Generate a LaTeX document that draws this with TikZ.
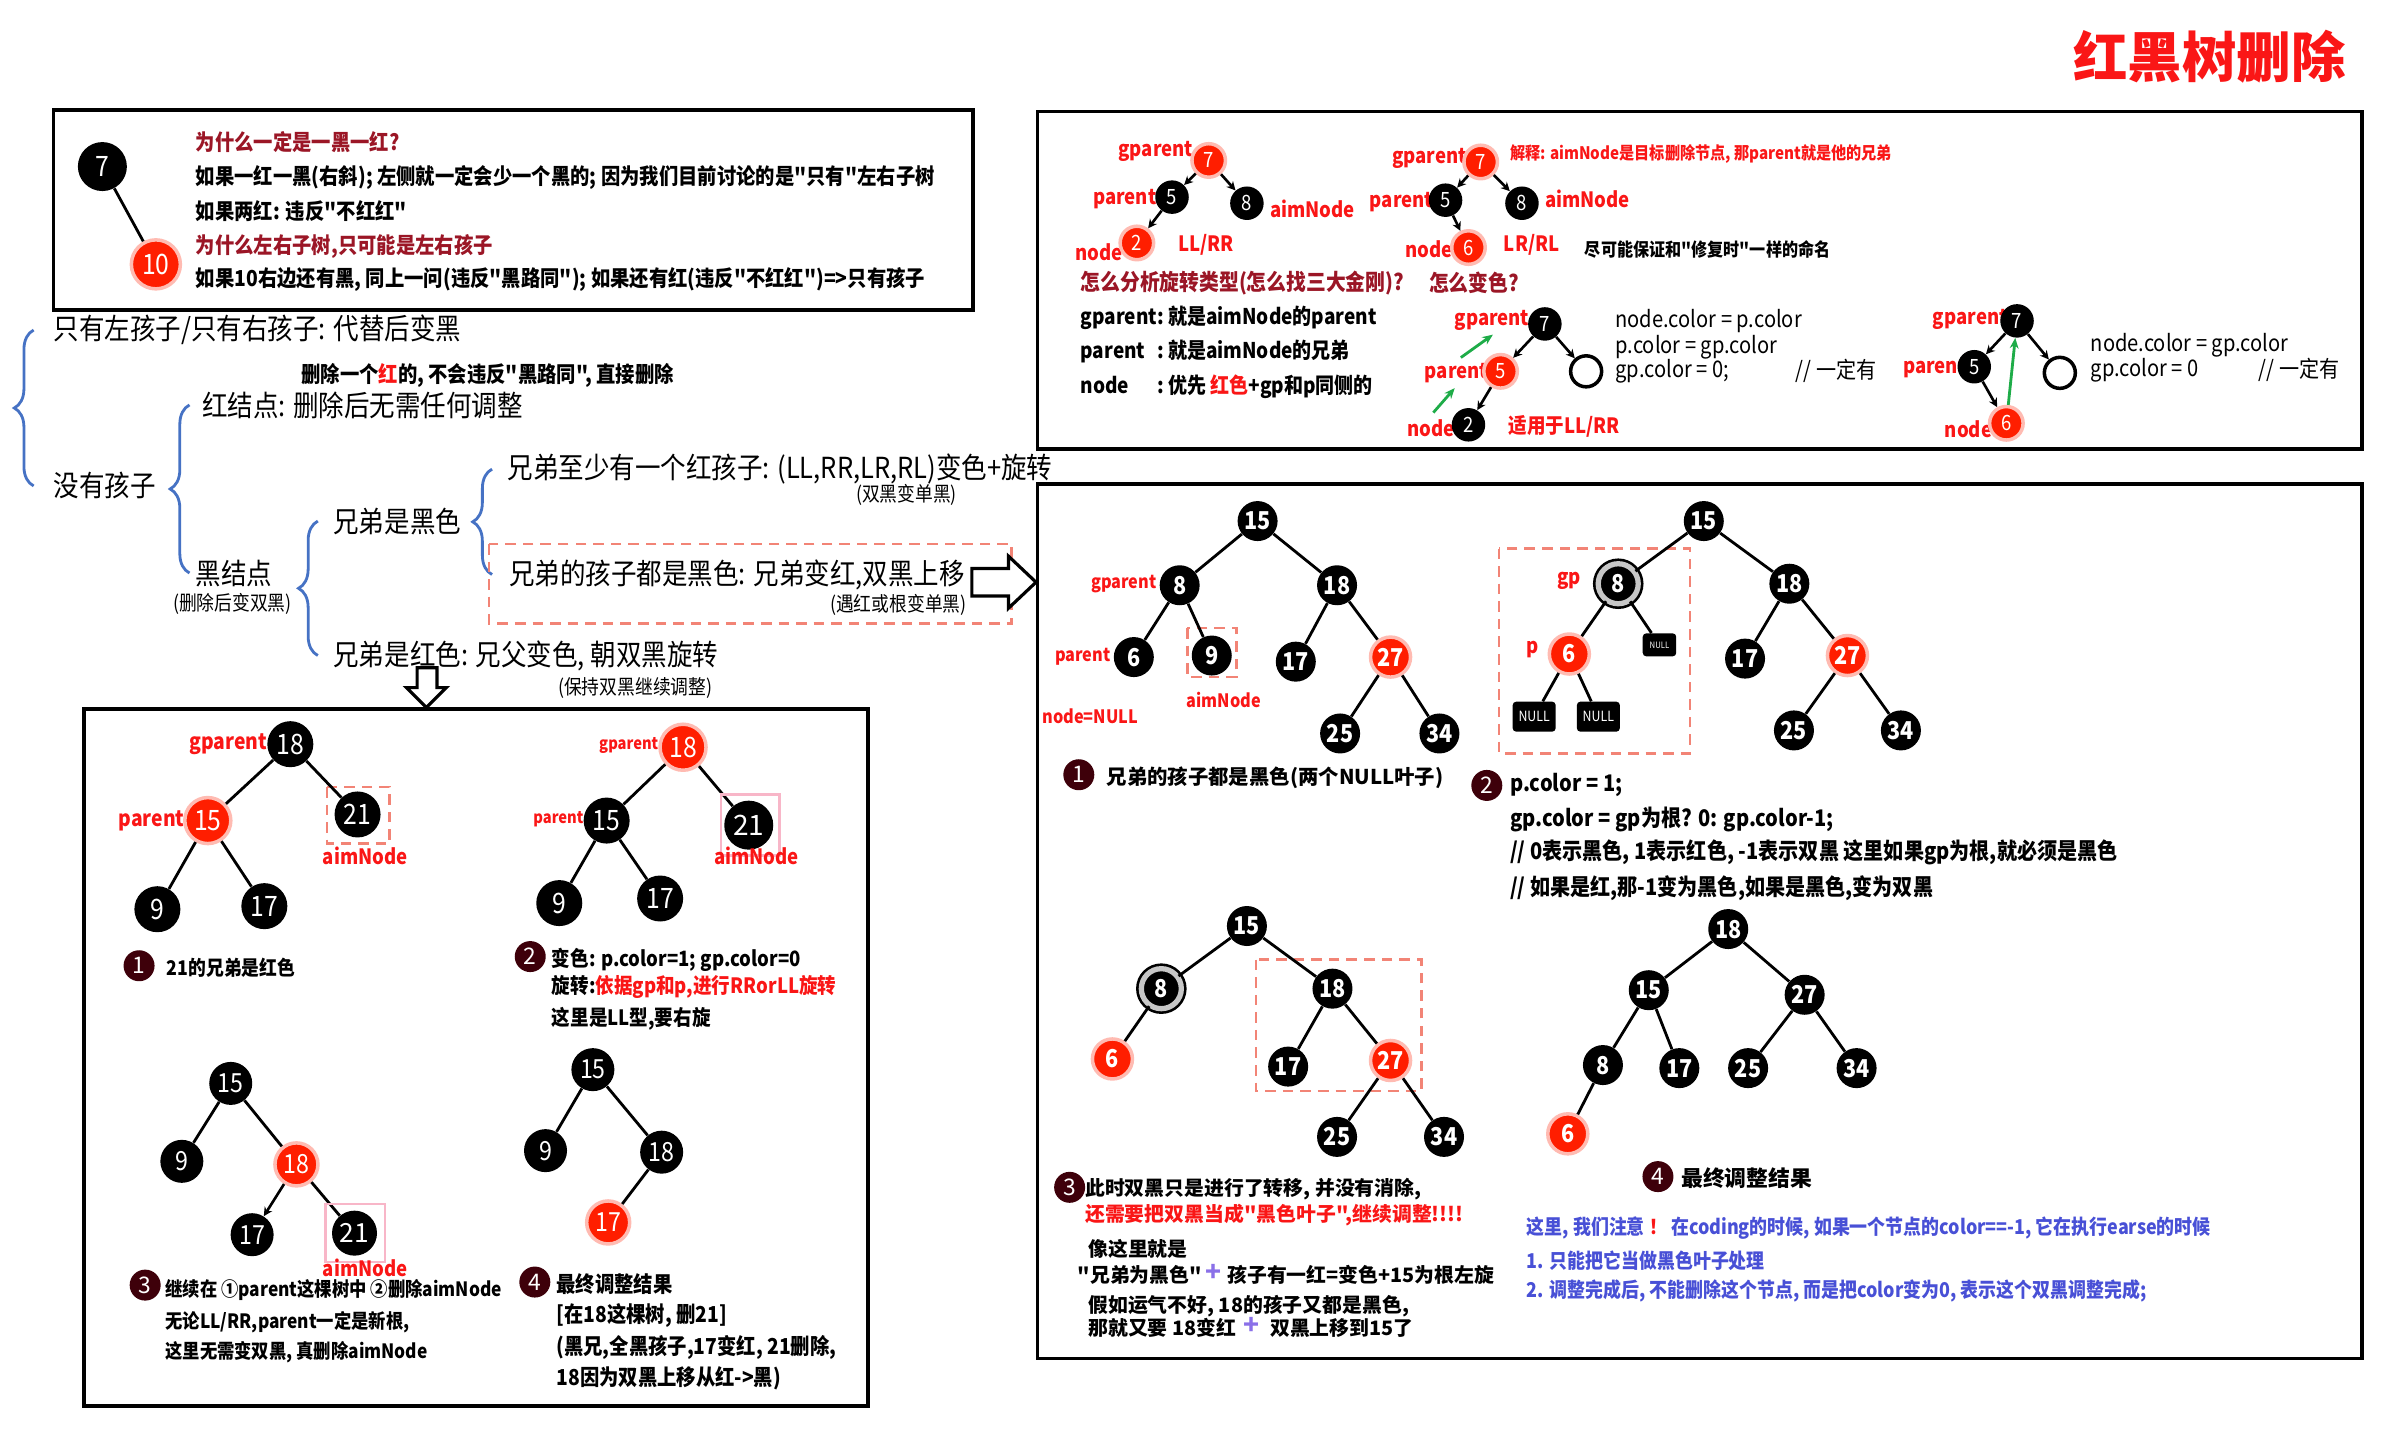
\documentclass[tikz,border=0pt]{standalone}
\usepackage{fontspec}
\setmainfont{Noto Sans CJK SC}[FakeStretch=0.88, Ligatures=TeXOff]
\newfontfamily\widefont{Noto Sans CJK SC}[Ligatures=TeXOff]
\usetikzlibrary{arrows.meta,calc,decorations.pathreplacing}
\definecolor{nred}{RGB}{250,22,22}
\definecolor{nodered}{RGB}{255,30,0}
\definecolor{dred}{RGB}{155,22,38}
\definecolor{stepred}{RGB}{62,0,10}
\definecolor{bblue}{RGB}{70,114,196}
\definecolor{salmon}{RGB}{242,132,118}
\definecolor{pinkbox}{RGB}{248,182,200}
\definecolor{gr}{RGB}{30,172,72}
\definecolor{tblue}{RGB}{72,80,214}
\definecolor{purp}{RGB}{138,112,232}
\newcommand\fsz[1]{\fontsize{#1}{#1}\selectfont}

\begin{document}
\begin{tikzpicture}[x=0.03056cm, y=-0.03056cm,
  bk/.style={circle, fill=black, text=white, inner sep=0pt, minimum size=0.8cm, font=\bfseries\fsz{14}},
  rd/.style={bk, fill=nodered, draw=nodered!30, line width=2pt},
  dbl/.style={bk, draw=black, double=black!22, double distance=3pt, line width=1.5pt},
  hol/.style={circle, draw=black, fill=white, line width=2pt, minimum size=0.62cm, inner sep=0pt},
  nul/.style={rectangle, rounded corners=2pt, fill=black, text=white, inner sep=0pt, minimum width=0.86cm, minimum height=0.6cm, font=\fsz{8}},
  stp/.style={circle, fill=stepred, text=white, inner sep=0pt, minimum size=0.62cm, font=\widefont\fsz{13}},
  ln/.style={line width=1.6pt},
  arr/.style={-{Stealth[length=5pt,width=5pt]}, line width=1.5pt},
  garr/.style={-{Stealth[length=6pt,width=5pt]}, draw=gr, line width=1.6pt},
  txt/.style={anchor=west, inner sep=0pt, font=\bfseries\fsz{12.5}},
  tb/.style={anchor=west, inner sep=0pt, font=\fsz{16.5}},
  snote/.style={anchor=west, inner sep=0pt, font=\fsz{11.5}},
  lbl/.style={inner sep=0pt, text=nred, font=\bfseries\fsz{12}},
  boxline/.style={line width=2.2pt},
  dbox/.style={draw=salmon, line width=1.6pt, dash pattern=on 6pt off 4pt},
  pbox/.style={draw=pinkbox, line width=1.4pt},
  brc/.style={draw=bblue, line width=1.6pt, decorate, decoration={brace, amplitude=11pt}}
]
\fill[white] (0,0) rectangle (1568,942.4);
\useasboundingbox (0,0) rectangle (1568,942.4);

\node[font=\widefont\bfseries\fsz{31}, text=nred] (title) at (1446,37) {红黑树删除};

% only one colour pair
\draw[boxline] (35,72) rectangle (637,203);
\node[bk, minimum size=0.98cm, font=\fsz{16}] (tl7) at (67,109) {7};
\node[rd, minimum size=0.98cm, font=\fsz{16}] (tl10) at (102,173) {10};
\draw[ln] (tl7) -- (tl10);
\node[txt, text=dred] (whyq) at (128,93) {为什么一定是一黑一红?};
\node[txt] (whya) at (128,116) {如果一红一黑(右斜); 左侧就一定会少一个黑的; 因为我们目前讨论的是"只有"左右子树};
\node[txt] (whyb) at (128,138) {如果两红: 违反"不红红"};
\node[txt, text=dred] (sideq) at (128,161) {为什么左右子树,只可能是左右孩子};
\node[txt] (sidea) at (128,183) {如果10右边还有黑, 同上一问(违反"黑路同"); 如果还有红(违反"不红红")=>只有孩子};

% case tree
\node[tb] (onlyone) at (35,216) {只有左孩子/只有右孩子: 代替后变黑};
\node[tb] (nokid) at (35,318) {没有孩子};
\node[txt] (redtip) at (197,246) {删除一个\textcolor{nred}{红}的, 不会违反"黑路同", 直接删除};
\node[tb] (rednode) at (132,265) {红结点: 删除后无需任何调整};
\node[tb] (blknode) at (128,375) {黑结点};
\node[snote] (blknote) at (113,395) {(删除后变双黑)};
\node[tb] (sibblk) at (218,341) {兄弟是黑色};
\node[tb] (sibred) at (218,429) {兄弟是红色: 兄父变色, 朝双黑旋转};
\node[snote] (sibrednote) at (365,450) {(保持双黑继续调整)};
\node[tb] (oneredkid) at (332,307) {兄弟至少有一个红孩子: (LL,RR,LR,RL)变色+旋转};
\node[snote] (oneredkidnote) at (560,324) {(双黑变单黑)};
\node[tb] (allblk) at (333,376) {兄弟的孩子都是黑色: 兄弟变红,双黑上移};
\node[snote] (allblknote) at (543,396) {(遇红或根变单黑)};
\coordinate (b1) at ($(onlyone.west)+(-13,0)$);
\draw[brc] (b1 |- nokid.west) -- (b1);
\coordinate (b2) at ($(rednode.west)+(-8,0)$);
\draw[brc] (b2 |- blknode.west) -- (b2);
\coordinate (b3) at ($(sibblk.west)+(-10,0)$);
\draw[brc] (b3 |- sibred.west) -- (b3);
\coordinate (b4) at ($(oneredkid.west)+(-10,0)$);
\draw[brc] (b4 |- allblk.west) -- (b4);
\draw[dbox] (320,356) rectangle (662,408);
\draw[line width=1.8pt, fill=white] (636,372) -- (660,372) -- (660,364) -- (678,381) -- (660,398) -- (660,390) -- (636,390) -- cycle;
\draw[line width=1.8pt, fill=white] (273,437) -- (286,437) -- (286,450) -- (292,450) -- (279,463) -- (266,450) -- (273,450) -- cycle;

% naming box
\draw[boxline] (679,73) rectangle (1546,294);
\node[lbl, anchor=east] (lgpa) at (781,99) {gparent};
\node[lbl, anchor=east] (lpa) at (757,130) {parent};
\node[lbl, anchor=west] (laima) at (831,137) {aimNode};
\node[lbl, anchor=east] (lnodea) at (735,165) {node};
\node[lbl, anchor=west] (lla) at (771,160) {LL/RR};
\node[rd, minimum size=0.67cm, font=\fsz{12}] (a7) at (791,105) {7};
\node[bk, minimum size=0.67cm, font=\fsz{12}] (a5) at (767,129) {5};
\node[bk, minimum size=0.67cm, font=\fsz{12}] (a8) at (816,133) {8};
\node[rd, minimum size=0.67cm, font=\fsz{12}] (a2) at (744,159) {2};
\draw[arr] (a7) -- (a5);
\draw[arr] (a7) -- (a8);
\draw[arr] (a5) -- (a2);
\node[lbl, anchor=east] (lgpb) at (960,104) {gparent};
\node[lbl, anchor=east] (lpb) at (938,132) {parent};
\node[lbl, anchor=west] (laimb) at (1011,130) {aimNode};
\node[lbl, anchor=east] (lnodeb) at (951,163) {node};
\node[lbl, anchor=west] (llrb) at (984,160) {LR/RL};
\node[rd, minimum size=0.67cm, font=\fsz{12}] (b7) at (969,106) {7};
\node[bk, minimum size=0.67cm, font=\fsz{12}] (b5) at (946,131) {5};
\node[bk, minimum size=0.67cm, font=\fsz{12}] (b8) at (996,133) {8};
\node[rd, minimum size=0.67cm, font=\fsz{12}] (b6) at (961,162) {6};
\draw[arr] (b7) -- (b5);
\draw[arr] (b7) -- (b8);
\draw[arr] (b5) -- (b6);
\node[txt, text=nred, font=\bfseries\fsz{9.8}] (explain) at (988,101) {解释: aimNode是目标删除节点, 那parent就是他的兄弟};
\node[txt, font=\bfseries\fsz{10.4}] (naming) at (1037,163) {尽可能保证和"修复时"一样的命名};
\node[txt, text=dred, font=\bfseries\fsz{12.8}] (howrot) at (707,185) {怎么分析旋转类型(怎么找三大金刚)?};
\node[txt, text=dred, font=\bfseries\fsz{12.8}] (howcol) at (935,185) {怎么变色?};
\node[txt, font=\bfseries\fsz{12.3}] (defgp) at (707,208) {\makebox[1.66cm][l]{gparent\hfill:} 就是aimNode的parent};
\node[txt, font=\bfseries\fsz{12.3}] (defp) at (707,230) {\makebox[1.66cm][l]{parent\hfill:} 就是aimNode的兄弟};
\node[txt, font=\bfseries\fsz{12.3}] (defn) at (707,253) {\makebox[1.66cm][l]{node\hfill:} 优先 \textcolor{nred}{红色}+gp和p同侧的};
\node[lbl, anchor=east] (lgpc) at (1001,210) {gparent};
\node[lbl, anchor=east] (lpc) at (974,244) {parent};
\node[lbl, anchor=east] (lnodec) at (952,280) {node};
\node[lbl, anchor=west] (llrc) at (987,279) {适用于LL/RR};
\node[bk, minimum size=0.67cm, font=\fsz{12}] (c7) at (1011,212) {7};
\node[rd, minimum size=0.67cm, font=\fsz{12}] (c5) at (982,243) {5};
\node[hol] (cnil) at (1038,243) {};
\node[bk, minimum size=0.67cm, font=\fsz{12}] (c2) at (961,278) {2};
\draw[arr] (c7) -- (c5);
\draw[arr] (c7) -- (cnil);
\draw[arr] (c5) -- (c2);
\coordinate (g1s) at (938,270);
\coordinate (g1e) at (952,254);
\coordinate (g2s) at (956,234);
\coordinate (g2e) at (977,219);
\draw[garr] (g1s) -- (g1e);
\draw[garr] (g2s) -- (g2e);
\node[txt, font=\fsz{13}] (ccol1) at (1057,210) {node.color = p.color};
\node[txt, font=\fsz{13}] (ccol2) at (1057,227) {p.color = gp.color};
\node[txt, font=\fsz{13}] (ccol3) at (1057,243) {gp.color = 0;};
\node[txt, font=\fsz{13}] (cmust) at (1175,243) {// 一定有};
\node[lbl, anchor=east] (lgpd) at (1314,209) {gparent};
\node[lbl, anchor=east] (lpd) at (1287,241) {parent};
\node[lbl, anchor=east] (lnoded) at (1304,281) {node};
\node[bk, minimum size=0.67cm, font=\fsz{12}] (d7) at (1320,210) {7};
\node[bk, minimum size=0.67cm, font=\fsz{12}] (d5) at (1292,240) {5};
\node[hol] (dnil) at (1348,244) {};
\node[rd, minimum size=0.67cm, font=\fsz{12}] (d6) at (1313,277) {6};
\draw[arr] (d7) -- (d5);
\draw[arr] (d7) -- (dnil);
\draw[arr] (d5) -- (d6);
\draw[garr] (d6) -- (d7);
\node[txt, font=\fsz{13}] (dcol1) at (1368,226) {node.color = gp.color};
\node[txt, font=\fsz{13}] (dcol2) at (1368,242) {gp.color = 0};
\node[txt, font=\fsz{13}] (dmust) at (1478,242) {// 一定有};

% black sibling, black nephews
\draw[boxline] (679,317) rectangle (1546,889);
\node[lbl, anchor=east, font=\bfseries\fsz{10.5}] (l1gp) at (757,382) {gparent};
\node[lbl, anchor=east, font=\bfseries\fsz{10.5}] (l1p) at (727,430) {parent};
\node[lbl, font=\bfseries\fsz{10.5}] (l1aim) at (801,458) {aimNode};
\node[lbl, anchor=west, font=\bfseries\fsz{10.5}] (l1node) at (682,469) {node=NULL};
\draw[dbox] (777,411) rectangle (809,443);
\node[bk] (s1n15) at (823,341) {15};
\node[bk] (s1n8) at (772,383) {8};
\node[bk] (s1n18) at (875,383) {18};
\node[bk] (s1n6) at (742,430) {6};
\node[bk] (s1n9) at (793,429) {9};
\node[bk] (s1n17) at (848,433) {17};
\node[rd] (s1n27) at (910,430) {27};
\node[bk] (s1n25) at (877,480) {25};
\node[bk] (s1n34) at (942,480) {34};
\draw[ln] (s1n15) -- (s1n8);
\draw[ln] (s1n15) -- (s1n18);
\draw[ln] (s1n8) -- (s1n6);
\draw[ln] (s1n8) -- (s1n9);
\draw[ln] (s1n18) -- (s1n17);
\draw[ln] (s1n18) -- (s1n27);
\draw[ln] (s1n27) -- (s1n25);
\draw[ln] (s1n27) -- (s1n34);
\node[stp] (st1) at (706,507) {1};
\node[txt, font=\widefont\bfseries\fsz{11.6}] (st1t) at (724,509) {兄弟的孩子都是黑色(两个NULL叶子)};

\draw[dbox] (981,359) rectangle (1106,493);
\node[lbl, anchor=east] (l2gp) at (1035,380) {gp};
\node[lbl, anchor=east] (l2p) at (1007,425) {p};
\node[bk] (s2n15) at (1115,341) {15};
\node[dbl] (s2n8) at (1059,382) {8};
\node[bk] (s2n18) at (1171,382) {18};
\node[rd] (s2n6) at (1027,428) {6};
\node[nul, minimum width=0.67cm, minimum height=0.46cm, font=\fsz{5}] (s2nil) at (1086,422) {NULL};
\node[nul] (s2nl1) at (1004,469) {NULL};
\node[nul] (s2nl2) at (1046,469) {NULL};
\node[bk] (s2n17) at (1142,431) {17};
\node[rd] (s2n27) at (1209,429) {27};
\node[bk] (s2n25) at (1174,478) {25};
\node[bk] (s2n34) at (1244,478) {34};
\draw[ln] (s2n15) -- (s2n8);
\draw[ln] (s2n15) -- (s2n18);
\draw[ln] (s2n8) -- (s2n6);
\draw[ln] (s2n8) -- (s2nil);
\draw[ln] (s2n6) -- (s2nl1);
\draw[ln] (s2n6) -- (s2nl2);
\draw[ln] (s2n18) -- (s2n17);
\draw[ln] (s2n18) -- (s2n27);
\draw[ln] (s2n27) -- (s2n25);
\draw[ln] (s2n27) -- (s2n34);
\node[stp] (st2) at (973,514) {2};
\node[txt, font=\bfseries\fsz{13}] (st2a) at (988,514) {p.color = 1;};
\node[txt, font=\bfseries\fsz{13}] (st2b) at (988,536) {gp.color = gp为根? 0: gp.color-1;};
\node[txt, font=\bfseries\fsz{13}] (st2c) at (988,558) {// 0表示黑色, 1表示红色, -1表示双黑 这里如果gp为根,就必须是黑色};
\node[txt, font=\bfseries\fsz{13}] (st2d) at (988,581) {// 如果是红,那-1变为黑色,如果是黑色,变为双黑};

\draw[dbox] (822,628) rectangle (930,714);
\node[bk] (s3n15) at (816,606) {15};
\node[dbl] (s3n8) at (760,647) {8};
\node[rd] (s3n6) at (728,693) {6};
\node[bk] (s3n18) at (872,647) {18};
\node[bk] (s3n17) at (843,698) {17};
\node[rd] (s3n27) at (910,694) {27};
\node[bk] (s3n25) at (875,744) {25};
\node[bk] (s3n34) at (945,744) {34};
\draw[ln] (s3n15) -- (s3n8);
\draw[ln] (s3n15) -- (s3n18);
\draw[ln] (s3n8) -- (s3n6);
\draw[ln] (s3n18) -- (s3n17);
\draw[ln] (s3n18) -- (s3n27);
\draw[ln] (s3n27) -- (s3n25);
\draw[ln] (s3n27) -- (s3n34);
\node[stp] (st3) at (700,777) {3};
\node[txt, font=\widefont\bfseries\fsz{11.3}] (st3a) at (710,778) {此时双黑只是进行了转移, 并没有消除,};
\node[txt, font=\widefont\bfseries\fsz{11.3}, text=nred] (st3b) at (710,795) {还需要把双黑当成"黑色叶子",继续调整!!!!};
\node[txt, font=\widefont\bfseries\fsz{11.3}] (st3c) at (712,817) {像这里就是};
\node[txt, font=\widefont\bfseries\fsz{11.3}] (st3d) at (705,834) {"兄弟为黑色"};
\node[text=purp, font=\widefont\bfseries\fsz{15}] (plus1) at (794,833) {+};
\node[txt, font=\widefont\bfseries\fsz{11.3}] (st3e) at (803,834) {孩子有一红=变色+15为根左旋};
\node[txt, font=\widefont\bfseries\fsz{11.3}] (st3f) at (712,855) {假如运气不好, 18的孩子又都是黑色,};
\node[txt, font=\widefont\bfseries\fsz{11.3}] (st3g) at (712,869) {那就又要 18变红};
\node[text=purp, font=\widefont\bfseries\fsz{15}] (plus2) at (819,868) {+};
\node[txt, font=\widefont\bfseries\fsz{11.3}] (st3h) at (831,869) {双黑上移到15了};

\node[bk] (s4n18) at (1131,608) {18};
\node[bk] (s4n15) at (1079,648) {15};
\node[bk] (s4n27) at (1181,651) {27};
\node[bk] (s4n8) at (1049,697) {8};
\node[bk] (s4n17) at (1099,699) {17};
\node[bk] (s4n25) at (1144,699) {25};
\node[bk] (s4n34) at (1215,699) {34};
\node[rd] (s4n6) at (1026,742) {6};
\draw[ln] (s4n18) -- (s4n15);
\draw[ln] (s4n18) -- (s4n27);
\draw[ln] (s4n15) -- (s4n8);
\draw[ln] (s4n15) -- (s4n17);
\draw[ln] (s4n27) -- (s4n25);
\draw[ln] (s4n27) -- (s4n34);
\draw[ln] (s4n8) -- (s4n6);
\node[stp] (st4) at (1085,770) {4};
\node[txt, font=\widefont\bfseries\fsz{12.4}] (st4t) at (1100,771) {最终调整结果};
\node[txt, text=tblue, font=\bfseries\fsz{11.6}] (note1) at (999,804) {这里, 我们注意 \textcolor{nred}{！} 在coding的时候, 如果一个节点的color==-1, 它在执行earse的时候};
\node[txt, text=tblue, font=\bfseries\fsz{11.6}] (note2) at (999,825) {1. 只能把它当做黑色叶子处理};
\node[txt, text=tblue, font=\bfseries\fsz{11.6}] (note3) at (999,845) {2. 调整完成后, 不能删除这个节点, 而是把color变为0, 表示这个双黑调整完成;};

% red sibling
\draw[boxline] (55,464) rectangle (568,920);
\node[lbl, anchor=east, font=\bfseries\fsz{12.5}] (m1gp) at (175,487) {gparent};
\node[lbl, anchor=east, font=\bfseries\fsz{12.5}] (m1p) at (121,537) {parent};
\node[lbl, font=\bfseries\fsz{12}] (m1aim) at (239,560) {aimNode};
\draw[dbox] (214,515) rectangle (255,552);
\node[bk, minimum size=0.92cm, font=\fsz{16}] (m1n18) at (190,487) {18};
\node[rd, minimum size=0.92cm, font=\fsz{16}] (m1n15) at (136,537) {15};
\node[bk, minimum size=0.92cm, font=\fsz{16}] (m1n21) at (234,533) {21};
\node[bk, minimum size=0.92cm, font=\fsz{16}] (m1n9) at (103,595) {9};
\node[bk, minimum size=0.92cm, font=\fsz{16}] (m1n17) at (173,593) {17};
\draw[ln] (m1n18) -- (m1n15);
\draw[ln] (m1n18) -- (m1n21);
\draw[ln] (m1n15) -- (m1n9);
\draw[ln] (m1n15) -- (m1n17);
\node[stp] (mt1) at (91,632) {1};
\node[txt, font=\bfseries\fsz{11.5}] (mt1t) at (109,633) {21的兄弟是红色};

\node[lbl, anchor=east, font=\bfseries\fsz{9.5}] (m2gp) at (431,488) {gparent};
\node[lbl, anchor=east, font=\bfseries\fsz{9.5}] (m2p) at (382,536) {parent};
\node[rd, minimum size=0.92cm, font=\fsz{16}] (m2n18) at (447,489) {18};
\node[bk, minimum size=0.92cm, font=\fsz{16}] (m2n15) at (397,537) {15};
\node[bk, minimum size=0.98cm, font=\widefont\fsz{16}] (m2n21) at (490,540) {21};
\node[bk, minimum size=0.92cm, font=\fsz{16}] (m2n9) at (366,591) {9};
\node[bk, minimum size=0.92cm, font=\fsz{16}] (m2n17) at (432,588) {17};
\draw[ln] (m2n18) -- (m2n15);
\draw[ln] (m2n18) -- (m2n21);
\draw[ln] (m2n15) -- (m2n9);
\draw[ln] (m2n15) -- (m2n17);
\draw[pbox] (472,520) rectangle (510,560);
\node[lbl, font=\bfseries\fsz{12}] (m2aim) at (495,560) {aimNode};
\node[stp] (mt2) at (347,626) {2};
\node[txt, font=\bfseries\fsz{12}] (mt2a) at (361,628) {变色: p.color=1; gp.color=0};
\node[txt, font=\bfseries\fsz{12}] (mt2b) at (361,646) {旋转:\textcolor{nred}{依据gp和p,进行RRorLL旋转}};
\node[txt, font=\bfseries\fsz{12}] (mt2c) at (361,667) {这里是LL型,要右旋};

\node[bk, minimum size=0.86cm, font=\fsz{15}] (m3n15) at (151,709) {15};
\node[bk, minimum size=0.86cm, font=\fsz{15}] (m3n9) at (119,760) {9};
\node[rd, minimum size=0.86cm, font=\fsz{15}] (m3n18) at (194,762) {18};
\node[bk, minimum size=0.86cm, font=\fsz{15}] (m3n17) at (165,808) {17};
\node[bk, minimum size=0.9cm, font=\widefont\fsz{15}] (m3n21) at (232,807) {21};
\draw[ln] (m3n15) -- (m3n9);
\draw[ln] (m3n15) -- (m3n18);
\draw[arr] (m3n18) -- (m3n17);
\draw[ln] (m3n18) -- (m3n21);
\draw[pbox] (213,788) rectangle (252,826);
\node[lbl, font=\bfseries\fsz{12}] (m3aim) at (239,830) {aimNode};
\node[stp] (mt3) at (95,841) {3};
\node[txt, font=\bfseries\fsz{11.2}] (mt3a) at (108,844) {继续在 ①parent这棵树中 ②删除aimNode};
\node[txt, font=\bfseries\fsz{11.2}] (mt3b) at (108,865) {无论LL/RR,parent一定是新根,};
\node[txt, font=\bfseries\fsz{11.2}] (mt3c) at (108,885) {这里无需变双黑, 真删除aimNode};

\node[bk, minimum size=0.86cm, font=\fsz{15}] (m4n15) at (388,700) {15};
\node[bk, minimum size=0.86cm, font=\fsz{15}] (m4n9) at (357,753) {9};
\node[bk, minimum size=0.86cm, font=\fsz{15}] (m4n18) at (433,754) {18};
\node[rd, minimum size=0.86cm, font=\fsz{15}] (m4n17) at (398,800) {17};
\draw[ln] (m4n15) -- (m4n9);
\draw[ln] (m4n15) -- (m4n18);
\draw[ln] (m4n18) -- (m4n17);
\node[stp] (mt4) at (350,839) {4};
\node[txt, font=\bfseries\fsz{12.5}] (mt4a) at (364,840) {最终调整结果};
\node[txt, font=\bfseries\fsz{12.5}] (mt4b) at (364,861) {[在18这棵树, 删21]};
\node[txt, font=\bfseries\fsz{12.5}] (mt4c) at (364,882) {(黑兄,全黑孩子,17变红, 21删除,};
\node[txt, font=\bfseries\fsz{12.5}] (mt4d) at (364,902) {18因为双黑上移从红->黑)};
\end{tikzpicture}
\end{document}
